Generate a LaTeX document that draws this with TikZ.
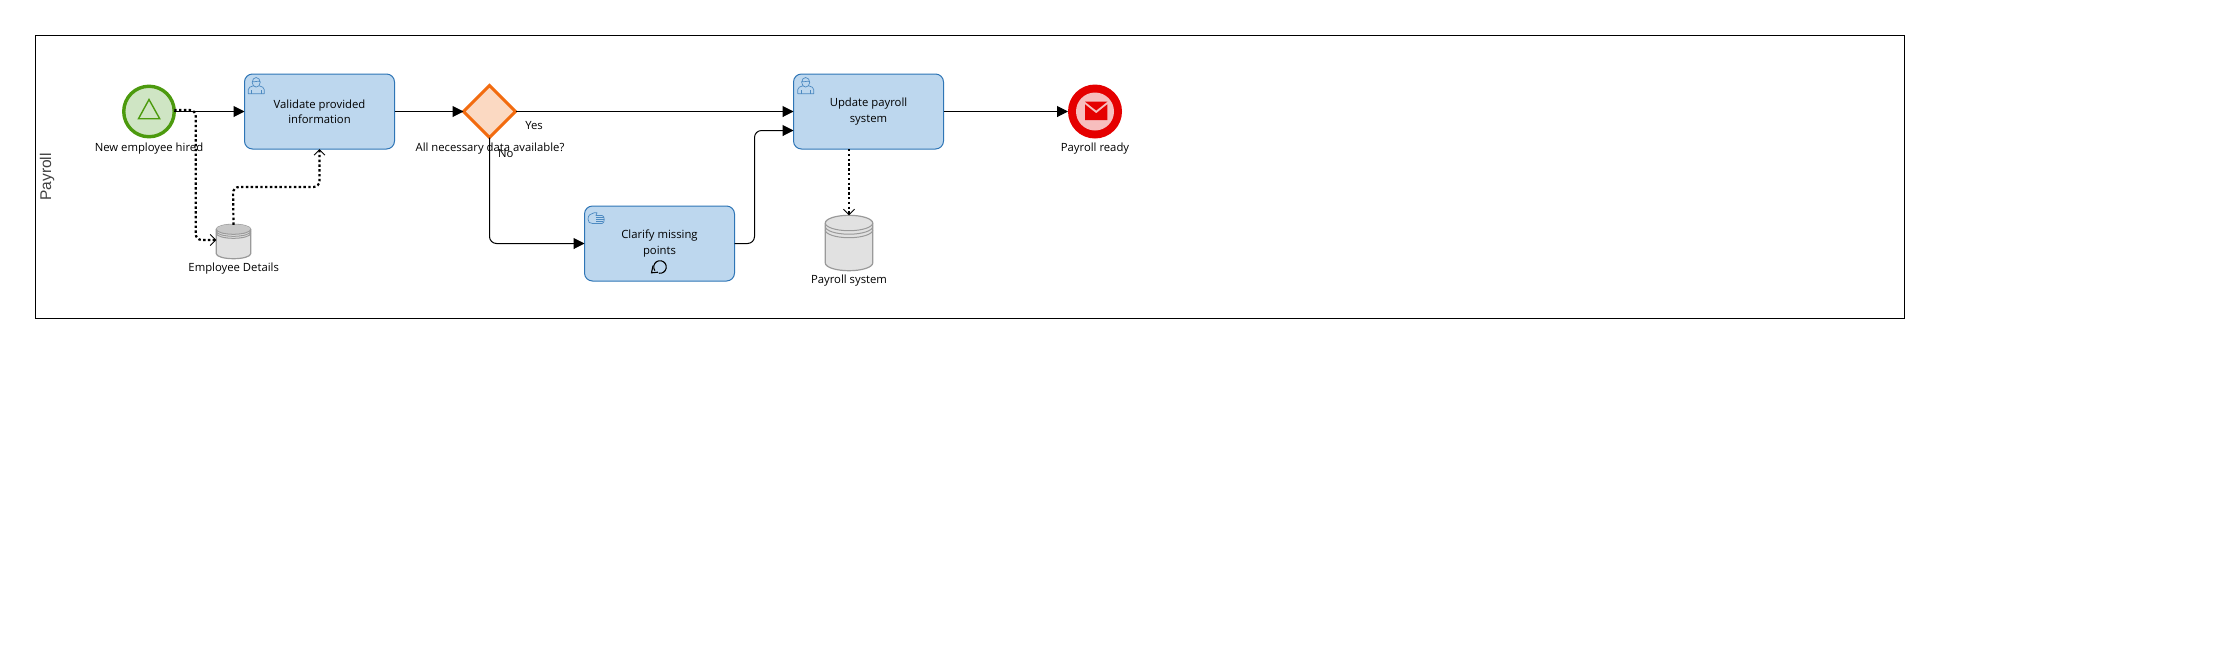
\documentclass[tikz,border=0pt]{standalone}
\usepackage{fontspec}
\setmainfont{Open Sans}
\newfontfamily\poolfont{Liberation Sans}
\usetikzlibrary{arrows.meta,shapes.geometric,calc}
\definecolor{taskfill}{HTML}{BDD7EE}
\definecolor{taskline}{HTML}{2E75B6}
\definecolor{startfill}{HTML}{CFE5C4}
\definecolor{startline}{HTML}{4C9A0E}
\definecolor{gatefill}{HTML}{FBD9C2}
\definecolor{gateline}{HTML}{F26B0F}
\definecolor{endline}{HTML}{E50000}
\definecolor{endfill}{HTML}{F7BEBE}
\definecolor{storefill}{HTML}{E1E1E1}
\definecolor{storeline}{HTML}{9A9A9A}
\tikzset{
 x=1pt,y=-1pt,
 every node/.style={font=\fontsize{11.3}{15.2}\selectfont,inner sep=0pt,outer sep=0pt,align=center,text=black},
 task/.style={draw=taskline,fill=taskfill,line width=1pt,rounded corners=8pt,minimum width=150pt,minimum height=75pt},
 evt/.style={circle,minimum size=#1},
 gate/.style={diamond,draw=gateline,fill=gatefill,line width=3pt,minimum width=52pt,minimum height=52pt,aspect=1},
 lbl/.style={anchor=center},
 flow/.style={draw=black,line width=1pt,rounded corners=7pt,-{Triangle[length=11pt,width=11pt]}},
 assoc/.style={draw=black,line width=2.2pt,dash pattern=on 2.4pt off 2.4pt,rounded corners=6pt,-{Straight Barb[length=5.5pt,width=11pt,line width=0.9pt]}},
 storeshape/.style={draw=storeline,fill=storefill,line width=1.2pt},
 storeband/.style={draw=storeline,line width=1pt},
 iconline/.style={draw=taskline!85,line width=0.7pt,line join=round},
}
% user icon: top-left corner at #1,#2
\newcommand{\usericon}[2]{%
 \begin{scope}[shift={(#1,#2)}]
  \draw[iconline,fill=taskfill] (0.3,16.2) -- (0.3,12) .. controls (0.3,9.8) and (2.5,9.3) .. (5.3,8.3) -- (11.2,8.3) .. controls (14,9.3) and (16.2,9.8) .. (16.2,12) -- (16.2,16.2) -- cycle;
  \draw[iconline,fill=taskfill] (8.2,4.8) ellipse [x radius=4,y radius=4.8];
  \draw[iconline] (4.2,4) .. controls (6,5) and (10,3) .. (12.2,4);
  \draw[iconline] (3.6,16.2) -- (3.6,12.5) (12.9,16.2) -- (12.9,12.5);
 \end{scope}}
\begin{document}
\begin{tikzpicture}
\useasboundingbox (0,0) rectangle (2235,649);
\fill[white] (0,0) rectangle (2235,649);
% pool
\node[draw=black,line width=1pt,minimum width=1869pt,minimum height=283pt,anchor=north west] (pool) at (35.5,35.5) {};
\node[rotate=90,font=\poolfont\fontsize{15.5}{18}\selectfont,text=black!75] (poolname) at (47,177) {Payroll};
% nodes
\node[evt=54pt,draw=startline,fill=startfill,line width=3.4pt,minimum size=50.5pt] (start) at (149,111.5) {};
\draw[startline,line width=1.4pt,fill=none] (149,99.5) -- (138.5,118.7) -- (159.7,118.7) -- cycle;
\node[task] (t1) at (319.5,111.5) {\raisebox{-0.5pt}{Validate provided}\\\raisebox{-0.5pt}{information}};
\usericon{248}{77.5}
\node[gate] (gw) at (489.5,111.5) {};
\node[task] (t2) at (659.5,243.5) {\raisebox{-0.5pt}{Clarify missing}\\\raisebox{-0.5pt}{points}};
\node[task] (t3) at (868.5,111.5) {\raisebox{-0.5pt}{Update payroll}\\\raisebox{-0.5pt}{system}};
\node[evt=54pt,fill=endline,minimum size=54pt] (end) at (1095,111.5) {};
\node[evt=38pt,fill=endfill,minimum size=38pt] (endin) at (1095,111.5) {};
\fill[endline] (1085,101.7) -- (1107.3,101.7) -- (1096.2,110.5) -- cycle;
\fill[endline] (1085,104.3) -- (1096.2,113.3) -- (1107.3,104.3) -- (1107.3,120) -- (1085,120) -- cycle;
% loop marker
\draw[black,line width=1.1pt] (658.9,273.2) arc [start angle=100,end angle=-215,radius=6.3];
\draw[black,line width=1.1pt,line join=miter] (653,265.6) -- (651.5,272.8) -- (658,272.2);
% hand icon
\begin{scope}[shift={(588,212)}]
 \draw[iconline] (0,7) .. controls (0,3) and (3,1.5) .. (6,0.8) -- (9,0.8) -- (8,3.4) -- (14,3.4) .. controls (17,3.4) and (17,11.5) .. (14,11.5) -- (4.5,11.5) .. controls (1.5,11.5) and (0,10) .. (0,7) -- cycle;
 \draw[iconline] (8,5.5) -- (16,5.5) (8,7.5) -- (16,7.5) (8,9.5) -- (15,9.5);
\end{scope}
\usericon{797.5}{77.5}
% stores
\node[minimum width=34.4pt,minimum height=34.4pt] (s1) at (233.5,241.5) {};
\draw[storeshape] (216.3,229.3) -- (216.3,253.7) arc [start angle=180,end angle=0,x radius=17.2,y radius=5] -- (250.7,229.3) arc [start angle=0,end angle=-180,x radius=17.2,y radius=5] -- cycle;
\fill[black!22] (216.3,229.3) arc [start angle=180,end angle=-180,x radius=17.2,y radius=5];
\draw[storeband] (216.3,229.3) arc [start angle=180,end angle=0,x radius=17.2,y radius=5];
\draw[storeband] (216.3,231.3) arc [start angle=180,end angle=0,x radius=17.2,y radius=5];
\draw[storeband] (216.3,233.3) arc [start angle=180,end angle=0,x radius=17.2,y radius=5];
\node[minimum width=47.4pt,minimum height=55.4pt] (s2) at (849,243) {};
\draw[storeshape] (825.3,223) -- (825.3,263) arc [start angle=180,end angle=0,x radius=23.7,y radius=7.7] -- (872.7,223) arc [start angle=0,end angle=-180,x radius=23.7,y radius=7.7] -- cycle;
\draw[storeband] (825.3,223) arc [start angle=180,end angle=0,x radius=23.7,y radius=7.7];
\draw[storeband] (825.3,226.5) arc [start angle=180,end angle=0,x radius=23.7,y radius=7.7];
\draw[storeband] (825.3,230) arc [start angle=180,end angle=0,x radius=23.7,y radius=7.7];
% labels
\node[lbl] (l1) at (149,149) {New employee hired};
\node[lbl] (l2) at (233.7,269) {Employee Details};
\node[lbl] (l3) at (490,149) {All necessary data available?};
\node[lbl] (l4) at (534,125.5) {Yes};
\node[lbl] (l5) at (505.7,153.5) {No};
\node[lbl] (l6) at (849,281) {Payroll system};
\node[lbl] (l7) at (1095,149) {Payroll ready};
% flows
\draw[flow] (start.east) -- (t1.west);
\draw[flow] (t1.east) -- (gw.west);
\draw[flow] (gw.east) -- (t3.west);
\draw[flow] (gw.south) |- (t2.west);
\coordinate (t3in) at ($(t3.west)+(0,19)$);
\draw[flow] (t2.east) -- (754.5,243.5) -- (754.5,130.5) -- (t3in);
\draw[flow] (t3.east) -- (end.west);
% associations
\coordinate (s1in) at ($(s1.west)+(0,-1.5)$);
\coordinate (s1out) at ($(s1.north)+(0,0.5)$);
\coordinate (startout) at ($(start.east)+(0,-1.5)$);
\draw[assoc] (startout) -- (195.7,110) -- (195.7,240) -- (s1in);
\draw[assoc] (s1out) -- (233,187) -- (319.5,187) -- (t1.south);
\draw[assoc] (t3.south -| s2.north) -- (s2.north);
\end{tikzpicture}
\end{document}
